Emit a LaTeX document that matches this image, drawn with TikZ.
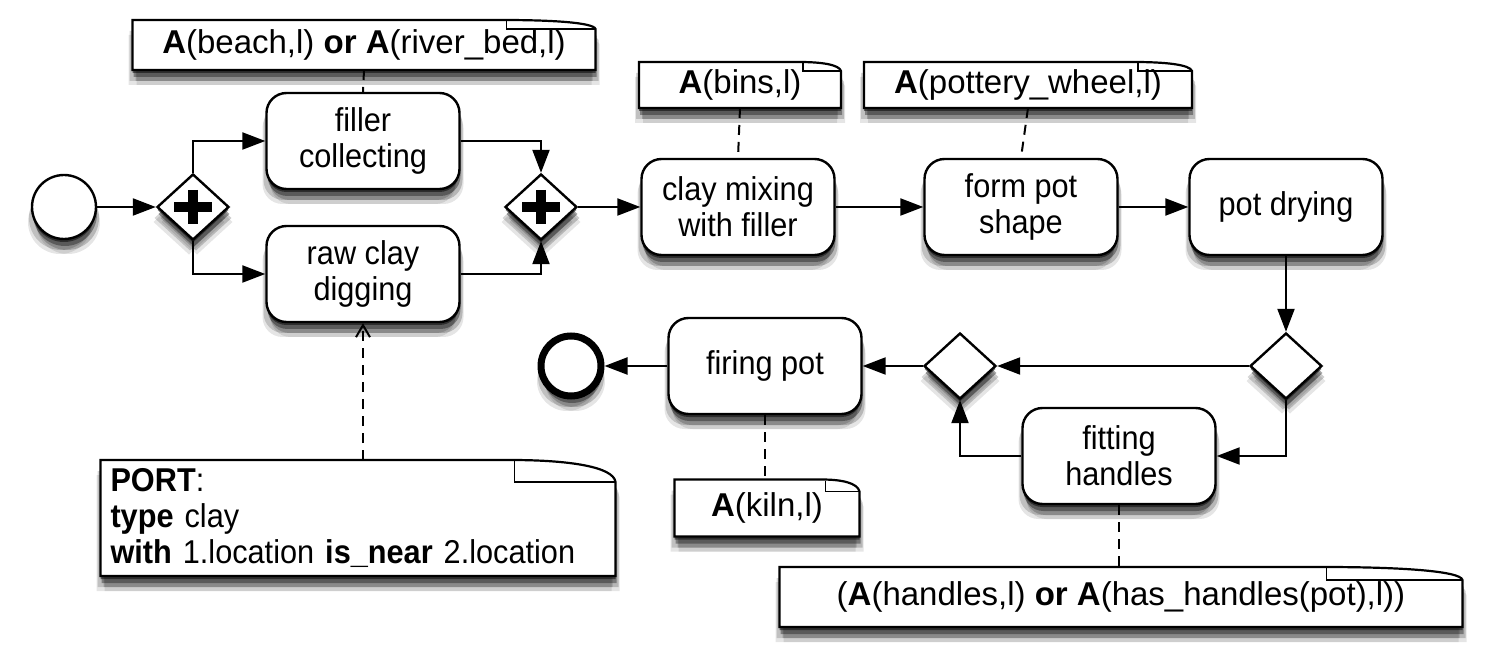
\documentclass[tikz,border=0pt]{standalone}
\usepackage{fontspec}
\setmainfont{Liberation Sans}[FakeStretch=0.93]
\newfontfamily\notefont{Liberation Sans}
\usetikzlibrary{arrows.meta,shapes.geometric,shadows,calc,backgrounds}
\newcommand\notebox[3]{%
  \begin{scope}[on background layer]
  \path[shad,draw,line width=2.2pt,fill=white,line join=miter]
     (#1.north west) -- ($(#1.north east)+(-#2,0)$)
     .. controls ($(#1.north east)+(-0.45*#2,0)$) and ($(#1.north east)+(-2,0.3*#3)$) .. ($(#1.north east)+(0,#3)$)
     -- (#1.south east) -- (#1.south west) -- cycle;
  \draw[line width=1.3pt] ($(#1.north east)+(-#2+4,1)$) -- ($(#1.north east)+(-#2+4,#3)$) -- ($(#1.north east)+(-1,#3)$);
  \end{scope}}
\begin{document}
\begin{tikzpicture}[x=1pt,y=-1pt,
  font=\fontsize{33}{36}\selectfont,
  shad/.style={
    drop shadow={shadow xshift=4pt,shadow yshift=-15pt,opacity=0.1,fill=black},
    drop shadow={shadow xshift=-4pt,shadow yshift=-15pt,opacity=0.1,fill=black},
    drop shadow={shadow xshift=3pt,shadow yshift=-11pt,opacity=0.2,fill=black},
    drop shadow={shadow xshift=-3pt,shadow yshift=-11pt,opacity=0.16,fill=black},
    drop shadow={shadow xshift=1pt,shadow yshift=-7pt,opacity=0.35,fill=black},
    drop shadow={shadow xshift=0pt,shadow yshift=-3pt,opacity=0.5,fill=black}},
  task/.style={draw,line width=2.4pt,rounded corners=20pt,fill=white,minimum width=193pt,minimum height=96pt,align=center,inner sep=0pt,shad},
  gw/.style={draw,diamond,line width=2.4pt,fill=white,minimum width=72pt,minimum height=66pt,inner sep=0pt,shad},
  note/.style={inner sep=0pt,outer sep=0pt},
  bignote/.style={note,font=\notefont\fontsize{33}{38}\selectfont},
  flow/.style={line width=2.2pt,-{Triangle[length=23pt,width=17pt]}},
  assoc/.style={line width=2pt,dash pattern=on 10pt off 7pt},
  plus/.style={line width=10pt}]
\useasboundingbox (0,0) rectangle (1492,668);
% events
\node[draw,circle,line width=2.4pt,fill=white,minimum size=64pt,inner sep=0pt,shad] (s) at (64,207) {};
\node[draw,circle,line width=7pt,fill=white,minimum size=60pt,inner sep=0pt,shad] (e) at (571,366) {};
% gateways
\node[gw] (g1) at (193,207) {};
\node[gw] (g2) at (541,207) {};
\node[gw] (g3) at (1286,366) {};
\node[gw] (g4) at (960,366) {};
\draw[plus] ($(g1)+(-19,0)$) -- ($(g1)+(19,0)$) ($(g1)+(0,-17)$) -- ($(g1)+(0,17)$);
\draw[plus] ($(g2)+(-19,0)$) -- ($(g2)+(19,0)$) ($(g2)+(0,-17)$) -- ($(g2)+(0,17)$);
% tasks
\node[task] (fc) at (363,141) {filler\\collecting};
\node[task] (rc) at (363,274) {raw clay\\digging};
\node[task] (cm) at (738,207) {clay mixing\\with filler};
\node[task] (fp) at (1021,207) {form pot\\shape};
\node[task] (pd) at (1286,207) {pot drying};
\node[task] (fh) at (1119,456) {fitting\\handles};
\node[task] (fi) at (765,366) {firing pot};
% notes
\node[bignote,minimum width=463pt,minimum height=50pt] (n1) at (364,45) {\raisebox{-4pt}{\textbf{A}(beach,l) \textbf{or} \textbf{A}(river\_bed,l)}};
\node[bignote,minimum width=202pt,minimum height=46pt] (n2) at (740,85) {\raisebox{-4pt}{\textbf{A}(bins,l)}};
\node[bignote,minimum width=328pt,minimum height=46pt] (n3) at (1028,85) {\raisebox{-4pt}{\textbf{A}(pottery\_wheel,l)}};
\node[bignote,minimum width=185pt,minimum height=57pt] (n4) at (767,508) {\raisebox{-3pt}{\textbf{A}(kiln,l)}};
\node[bignote,minimum width=683pt,minimum height=60pt] (n5) at (1121,597) {\raisebox{-3pt}{(\textbf{A}(handles,l) \textbf{or} \textbf{A}(has\_handles(pot),l))}};
\node[note,minimum width=515pt,minimum height=116pt,align=left,text width=495pt] (n6) at (358,518) {\textbf{PORT}:\\\textbf{type} clay\\\textbf{with} 1.location \textbf{is\_near} 2.location};
\notebox{n1}{93}{9}
\notebox{n2}{42}{9}
\notebox{n3}{58}{9}
\notebox{n4}{38}{12}
\notebox{n5}{140}{13}
\notebox{n6}{105}{22}
% flows
\draw[flow] (s) -- (g1);
\draw[flow] (g1.north) |- (fc.west);
\draw[flow] (g1.south) |- (rc.west);
\draw[flow] (fc.east) -| (g2.north);
\draw[flow] (rc.east) -| (g2.south);
\draw[flow] (g2) -- (cm);
\draw[flow] (cm) -- (fp);
\draw[flow] (fp) -- (pd);
\draw[flow] (pd.south) -- (g3.north);
\draw[flow] (g3.west) -- (g4.east);
\draw[flow] (g3.south) |- (fh.east);
\draw[flow] (fh.west) -| (g4.south);
\draw[flow] (g4) -- (fi);
\draw[flow] (fi) -- (e);
% associations
\draw[assoc] (n1.south) -- (fc.north);
\draw[assoc] (n2.south) -- (cm.north);
\draw[assoc] (n3.south) -- (fp.north);
\draw[assoc] (fi.south) -- (fi.south |- n4.north);
\draw[assoc] (fh.south) -- (fh.south |- n5.north);
\draw[assoc,-{Straight Barb[length=12pt,width=14pt,line width=2pt]}] (rc.south |- n6.north) -- (rc.south);
\end{tikzpicture}
\end{document}
